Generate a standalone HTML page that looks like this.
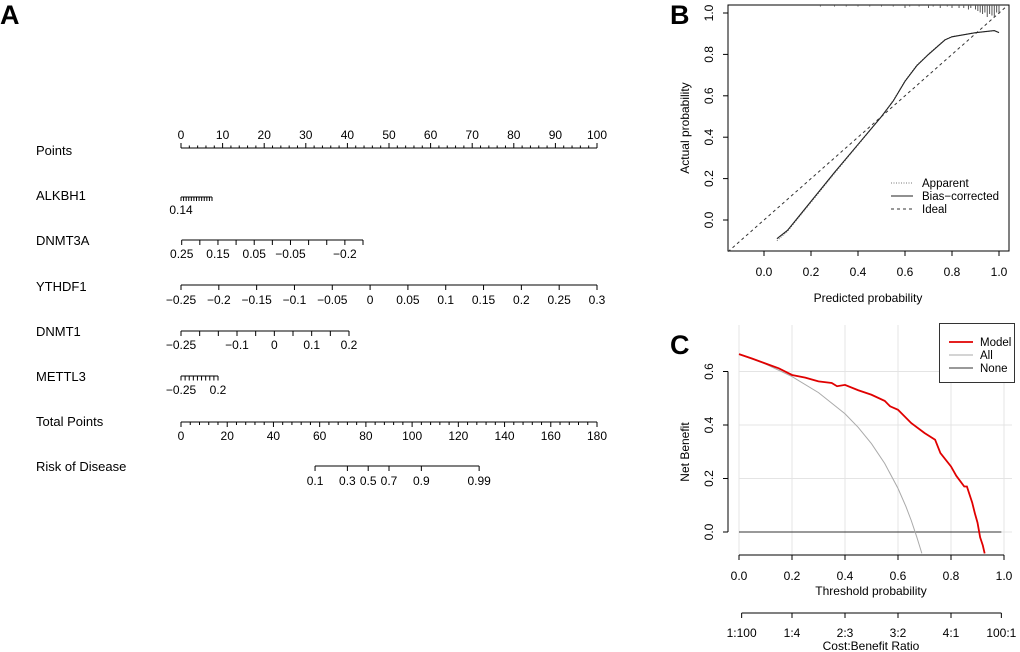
<!DOCTYPE html>
<html><head><meta charset="utf-8">
<style>
html,body{margin:0;padding:0;background:#fff;}
svg{display:block;font-family:"Liberation Sans",Arial,sans-serif;}
</style></head>
<body>
<svg id="fig" width="1020" height="652" viewBox="0 0 1020 652" xmlns="http://www.w3.org/2000/svg">
<text x="0" y="24" font-size="27" font-weight="bold">A</text>
<text x="670" y="24" font-size="27" font-weight="bold">B</text>
<text x="670" y="354" font-size="27" font-weight="bold">C</text>
<g id="nomo"></g>
<g id="calib"></g>
<g id="dca"></g>
</svg>
<script>
// ---------- Nomogram data ----------
const rowNames = ["Points","ALKBH1","DNMT3A","YTHDF1","DNMT1","METTL3","Total Points","Risk of Disease"];
const pointsTicks = [0,10,20,30,40,50,60,70,80,90,100];
const dnmt3aLabels = ["0.25","0.15","0.05","-0.05","-0.2"];
const ythdf1Labels = ["-0.25","-0.2","-0.15","-0.1","-0.05","0","0.05","0.1","0.15","0.2","0.25","0.3"];
const dnmt1Labels = ["-0.25","-0.1","0","0.1","0.2"];
const totalTicks = [0,20,40,60,80,100,120,140,160,180];
const riskLabels = ["0.1","0.3","0.5","0.7","0.9","0.99"];
const riskPoints = [58,72,81,90,104,129];

// ---------- Calibration data ----------
const calibX = [0.055,0.1,0.15,0.2,0.3,0.4,0.5,0.55,0.6,0.65,0.7,0.77,0.8,0.9,0.98,1.0];
const calibBias = [-0.09,-0.05,0.02,0.09,0.23,0.365,0.5,0.575,0.67,0.745,0.8,0.87,0.885,0.905,0.915,0.905];
const calibApparent = [-0.1,-0.055,0.015,0.085,0.225,0.362,0.5,0.578,0.672,0.748,0.802,0.872,0.886,0.905,0.914,0.906];
const calibTicks = [0,0.2,0.4,0.6,0.8,1.0];
const rugX = [0.24,0.3,0.35,0.4,0.45,0.5,0.55,0.6,0.62,0.66,0.7,0.72,0.75,0.78,0.8,0.83,0.85,0.87,0.88,0.9,0.91,0.92,0.93,0.94,0.95,0.96,0.97,0.98,0.99,1.0];
const rugLen = [1,1,1,1,1,1,1,2,1,1,2,1,2,1,2,2,2,3,2,3,4,5,6,5,8,6,7,8,5,6];

// ---------- DCA data ----------
const dcaT = [0,0.05,0.1,0.15,0.2,0.25,0.3,0.35,0.37,0.4,0.45,0.5,0.55,0.57,0.6,0.65,0.7,0.74,0.76,0.8,0.82,0.85,0.86,0.88,0.89,0.9,0.91,0.92,0.927];
const dcaModel = [0.665,0.648,0.63,0.612,0.587,0.577,0.563,0.557,0.545,0.55,0.53,0.513,0.49,0.47,0.457,0.407,0.37,0.345,0.295,0.245,0.21,0.17,0.17,0.11,0.07,0.035,-0.02,-0.05,-0.08];
const allT = [0,0.1,0.2,0.3,0.4,0.45,0.5,0.55,0.6,0.63,0.65,0.67,0.69];
const allNB = [0.665,0.628,0.581,0.521,0.442,0.391,0.33,0.256,0.163,0.095,0.043,-0.016,-0.08];
const dcaTicks = [0,0.2,0.4,0.6,0.8,1.0];
const dcaYTicks = [0,0.2,0.4,0.6];
const cbT = [0.01,0.2,0.4,0.6,0.8,0.99];
const cbLabels = ["1:100","1:4","2:3","3:2","4:1","100:1"];

const NS="http://www.w3.org/2000/svg";
function mk(parent,tag,attrs,text){const e=document.createElementNS(NS,tag);for(const k in attrs)e.setAttribute(k,attrs[k]);if(text!==undefined)e.textContent=text;parent.appendChild(e);return e;}
function line(p,x1,y1,x2,y2,st){return mk(p,"line",Object.assign({x1:x1,y1:y1,x2:x2,y2:y2,stroke:"#000","stroke-width":1},st||{}));}

// ---------- Nomogram ----------
const nomo=document.getElementById("nomo");
const rowY=[155,200,245,291,336,381,426,471];
rowNames.forEach((n,i)=>{
  const t=mk(nomo,"text",{x:36,y:rowY[i],"font-size":13},n);
  
  
});
const px = v => 181 + v*4.16; // points -> px
function scale(y,x0,x1,nTicks,minorEvery,tickLabels,labelIdx,labY,name){
  const g=mk(nomo,"g",{});
  
  
  line(g,x0,y,x1,y);
  for(let i=0;i<nTicks;i++){
    const x=x0+(x1-x0)*i/(nTicks-1);
    line(g,x,y,x,y+5);
  }
  labelIdx.forEach((ti,j)=>{
    const x=x0+(x1-x0)*ti/(nTicks-1);
    mk(g,"text",{x:x,y:labY,"font-size":12,"text-anchor":"middle"},tickLabels[j].replace("-","\u2212"));
  });
  return g;
}
// Points
(function(){
  const g=mk(nomo,"g",{});
  
  
  line(g,px(0),148,px(100),148);
  for(let v=0;v<=100;v+=2){line(g,px(v),148,px(v),v%10===0?143:145.5);}
  pointsTicks.forEach(v=>mk(g,"text",{x:px(v),y:139,"font-size":12,"text-anchor":"middle"},String(v)));
})();
// ALKBH1
(function(){
  const g=mk(nomo,"g",{});
  
  
  line(g,181,197,212,197);
  for(let i=0;i<=12;i++){const x=181+31*i/12;line(g,x,197,x,201);}
  mk(g,"text",{x:181,y:214,"font-size":12,"text-anchor":"middle"},"0.14");
})();
scale(240,181.7,363,11,1,dnmt3aLabels,[0,2,4,6,9],258,'dnmt3a-axis');
scale(285,181,597,12,1,ythdf1Labels,[0,1,2,3,4,5,6,7,8,9,10,11],304,'ythdf1-axis');
scale(331,181,349,10,1,dnmt1Labels,[0,3,5,7,9],349,'dnmt1-axis');
(function(){
  const g=mk(nomo,"g",{});
  
  
  line(g,181,376,218,376);
  for(let i=0;i<=9;i++){const x=181+37*i/9;line(g,x,376,x,380.5);}
  mk(g,"text",{x:181,y:394,"font-size":12,"text-anchor":"middle"},"\u22120.25");
  mk(g,"text",{x:218,y:394,"font-size":12,"text-anchor":"middle"},"0.2");
})();
// Total points
(function(){
  const g=mk(nomo,"g",{});
  
  
  const tx=v=>181+v*416/180;
  line(g,tx(0),422,tx(180),422);
  for(let v=0;v<=180;v+=4){line(g,tx(v),422,tx(v),v%20===0?427:425);}
  totalTicks.forEach(v=>mk(g,"text",{x:tx(v),y:440,"font-size":12,"text-anchor":"middle"},String(v)));
  // Risk
  const r=mk(nomo,"g",{});
  
  
  const rx=v=>tx(v);
  line(r,rx(riskPoints[0]),466,rx(riskPoints[riskPoints.length-1]),466);
  riskPoints.forEach((v,i)=>{line(r,rx(v),466,rx(v),471);mk(r,"text",{x:rx(v),y:485,"font-size":12,"text-anchor":"middle"},riskLabels[i]);});
})();

// ---------- Calibration ----------
const cal=document.getElementById("calib");
const cx=v=>764+v*235, cy=v=>220-v*207;
mk(cal,"rect",{x:728,y:5,width:281,height:246,fill:"none",stroke:"#000","stroke-width":1});
calibTicks.forEach(v=>{
  line(cal,cx(v),251,cx(v),256);
  mk(cal,"text",{x:cx(v),y:276,"font-size":12,"text-anchor":"middle"},v.toFixed(1));
  line(cal,728,cy(v),723,cy(v));
  mk(cal,"text",{x:713,y:cy(v),"font-size":12,"text-anchor":"middle",transform:`rotate(-90 713 ${cy(v)})`},v.toFixed(1));
});
mk(cal,"text",{x:868,y:302,"font-size":12,"text-anchor":"middle"},"Predicted probability");
mk(cal,"text",{x:689,y:128,"font-size":12,"text-anchor":"middle",transform:"rotate(-90 689 128)"},"Actual probability");
// ideal
const ideal=mk(cal,"line",{x1:cx(-0.153),y1:cy(-0.153),x2:cx(1.035),y2:cy(1.035),stroke:"#333","stroke-width":1,"stroke-dasharray":"3,3"});


const app=mk(cal,"polyline",{points:calibX.map((x,i)=>cx(x)+","+cy(calibApparent[i])).join(" "),fill:"none",stroke:"#777","stroke-width":1,"stroke-dasharray":"1,1.5"});


const bias=mk(cal,"polyline",{points:calibX.map((x,i)=>cx(x)+","+cy(calibBias[i])).join(" "),fill:"none",stroke:"#222","stroke-width":1.1});


rugX.forEach((x,i)=>{
  const r=line(cal,cx(x),5,cx(x),5+rugLen[i]*1.5,{stroke:"#555"});
  
  
});
// legend
const lg=mk(cal,"g",{});


line(lg,891,183,913,183,{stroke:"#777","stroke-dasharray":"1,1.5"});
line(lg,891,196,913,196,{stroke:"#222"});
line(lg,891,209,913,209,{stroke:"#333","stroke-dasharray":"3,3"});
mk(lg,"text",{x:922,y:187,"font-size":11.5},"Apparent");
mk(lg,"text",{x:922,y:200,"font-size":11.5},"Bias\u2212corrected");
mk(lg,"text",{x:922,y:213,"font-size":11.5},"Ideal");

// ---------- DCA ----------
const d=document.getElementById("dca");
const dx=v=>739+v*265, dy=v=>532-v*267.5;
dcaTicks.forEach(v=>line(d,dx(v),325,dx(v),555,{stroke:"#e4e4e4"}));
dcaYTicks.forEach(v=>line(d,739,dy(v),1012,dy(v),{stroke:"#e4e4e4"}));
line(d,728,dy(0),728,dy(0.6));
dcaYTicks.forEach(v=>{
  line(d,728,dy(v),723,dy(v));
  mk(d,"text",{x:713,y:dy(v),"font-size":12,"text-anchor":"middle",transform:`rotate(-90 713 ${dy(v)})`},v.toFixed(1));
});
mk(d,"text",{x:689,y:452,"font-size":12,"text-anchor":"middle",transform:"rotate(-90 689 452)"},"Net Benefit");
line(d,dx(0),555,dx(1),555);
dcaTicks.forEach(v=>{line(d,dx(v),555,dx(v),560);mk(d,"text",{x:dx(v),y:580,"font-size":12,"text-anchor":"middle"},v.toFixed(1));});
mk(d,"text",{x:871,y:595,"font-size":12,"text-anchor":"middle"},"Threshold probability");
line(d,dx(0.01),613,dx(0.99),613);
cbT.forEach((v,i)=>{line(d,dx(v),613,dx(v),618);mk(d,"text",{x:dx(v),y:637,"font-size":12,"text-anchor":"middle"},cbLabels[i]);});
mk(d,"text",{x:871,y:650,"font-size":12,"text-anchor":"middle"},"Cost:Benefit Ratio");
const none=line(d,dx(0),dy(0),dx(0.99),dy(0),{stroke:"#333"});


const all=mk(d,"polyline",{points:allT.map((t,i)=>dx(t)+","+dy(allNB[i])).join(" "),fill:"none",stroke:"#aaa","stroke-width":1});


const model=mk(d,"polyline",{points:dcaT.map((t,i)=>dx(t)+","+dy(dcaModel[i])).join(" "),fill:"none",stroke:"#e00000","stroke-width":1.8});


const dl=mk(d,"g",{});


mk(dl,"rect",{x:939.5,y:323.5,width:75,height:59,fill:"#fff",stroke:"#333"});
line(dl,949,342,973,342,{stroke:"#e00000","stroke-width":1.8});
line(dl,949,355,973,355,{stroke:"#aaa"});
line(dl,949,368,973,368,{stroke:"#333"});
mk(dl,"text",{x:980,y:346,"font-size":11.5},"Model");
mk(dl,"text",{x:980,y:359,"font-size":11.5},"All");
mk(dl,"text",{x:980,y:372,"font-size":11.5},"None");
</script>
</body></html>
